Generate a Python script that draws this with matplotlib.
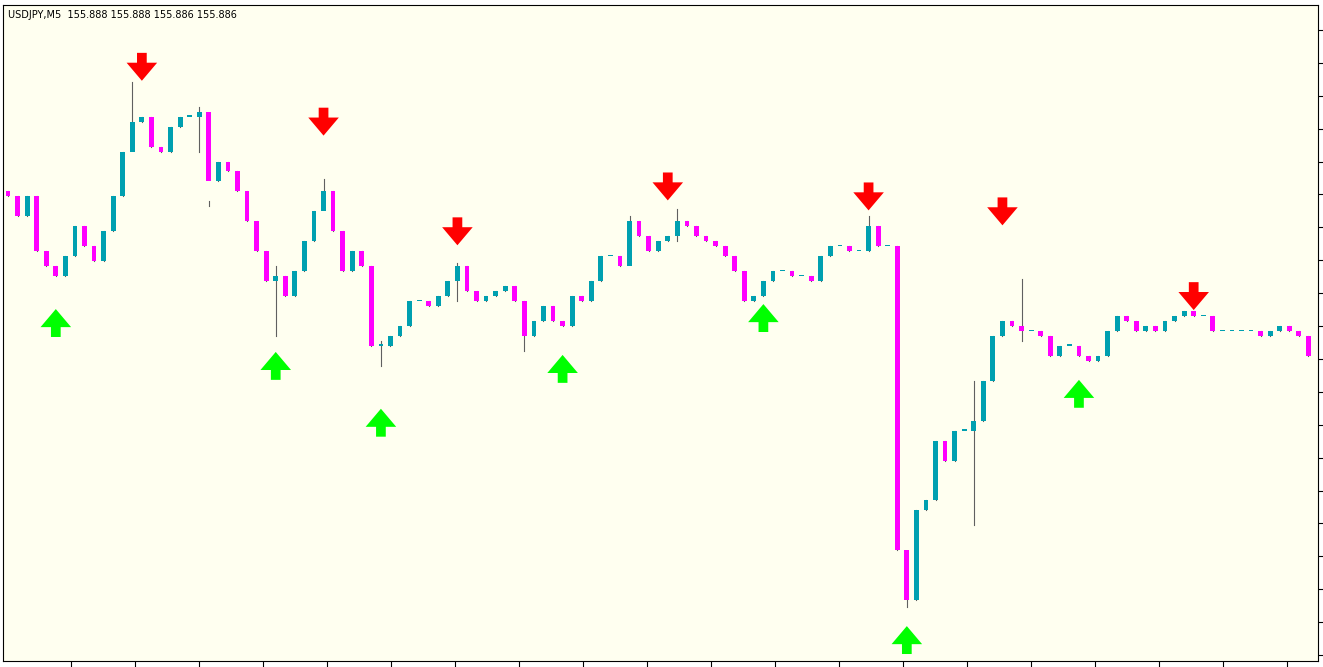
import matplotlib.pyplot as plt

# ── data (closing levels, read as screen rows from the top) ─────────────────
close_rows = [195, 215, 195, 250, 265, 275, 255, 225, 245, 260, 230, 195, 150, 120,
              115, 145, 150, 125, 115, 115, 110, 180, 160, 170, 190, 220, 250, 280,
              275, 295, 270, 240, 210, 190, 230, 270, 250, 265, 345, 345, 335, 325,
              300, 300, 305, 295, 280, 265, 290, 300, 295, 290, 285, 300, 335, 320,
              305, 320, 325, 295, 300, 280, 255, 255, 265, 220, 235, 250, 240, 235,
              220, 225, 235, 240, 245, 255, 270, 300, 295, 280, 270, 270, 275, 275,
              280, 255, 245, 245, 250, 250, 225, 245, 245, 550, 600, 510, 500, 440,
              460, 430, 430, 420, 380, 335, 320, 325, 330, 330, 335, 355, 345, 345,
              355, 360, 355, 330, 315, 320, 330, 325, 330, 320, 315, 310, 315, 315,
              330, 330, 330, 330, 330, 335, 330, 325, 330, 335, 355]
# notable wick extremes: index -> (high row, low row)
wicks = {13: (80, 130), 20: (105, 150), 21: (200, 205), 28: (265, 335), 33: (178, 200),
         39: (340, 365), 47: (262, 300), 54: (300, 350), 65: (215, 240), 70: (208, 240),
         90: (215, 250), 94: (590, 607), 101: (380, 525), 106: (278, 340)}
down_arrows = [(14, 65), (33, 120), (47, 230), (69, 185), (90, 195), (104, 210), (124, 295)]
up_arrows = [(5, 322), (28, 365), (39, 422), (58, 368), (79, 317), (94, 640), (112, 393)]

BG, BULL, BEAR = "#FFFFF0", "#00A0B0", "#FF00FF"
H = 667
STEP = 1310 / len(close_rows)

fig = plt.figure(figsize=(13.23, 6.67), dpi=100, facecolor="white")
ax = fig.add_axes([3 / 1323, 6 / 667, 1315 / 1323, 656 / 667])
ax.set_facecolor(BG)
ax.set_xlim(0, 1315)
ax.set_ylim(H - 661, H - 3)

closes = [H - r for r in close_rows]
opens = [closes[0] + 5] + closes[:-1]
for i, (o, c) in enumerate(zip(opens, closes)):
    x = 5 + i * STEP
    col = BULL if c >= o else BEAR
    hi, lo = max(o, c), min(o, c)
    if i in wicks:
        hi, lo = H - wicks[i][0], H - wicks[i][1]
    ax.plot([x, x], [lo, hi], color="#606060", lw=0.8, zorder=2)
    bot, top = min(o, c), max(o, c)
    if top - bot < 1.5:
        top = bot + 1.5
    ax.bar(x, top - bot, bottom=bot, width=STEP * 0.5, color=col, zorder=3)

for idx, r in down_arrows:
    x = 5 + idx * STEP
    ax.annotate("", xy=(x, H - r - 14), xytext=(x, H - r + 14),
                arrowprops=dict(width=7, headwidth=22, headlength=13, color="#FF0000", lw=0))
for idx, r in up_arrows:
    x = 5 + idx * STEP
    ax.annotate("", xy=(x, H - r + 14), xytext=(x, H - r - 14),
                arrowprops=dict(width=7, headwidth=22, headlength=13, color="#00FF00", lw=0))

ax.text(5, H - 13, "USDJPY,M5  155.888 155.888 155.886 155.886", fontsize=7,
        va="center", ha="left", color="black")

ax.yaxis.tick_right()
ax.set_yticks(range(H - 655, H - 3, 33))
ax.set_xticks(range(68, 1315, 64))
ax.tick_params(labelleft=False, labelright=False, labelbottom=False,
               direction="out", length=4, width=0.8)
for s in ax.spines.values():
    s.set_linewidth(0.8)

fig.savefig("out.png", dpi=100, facecolor="white")
